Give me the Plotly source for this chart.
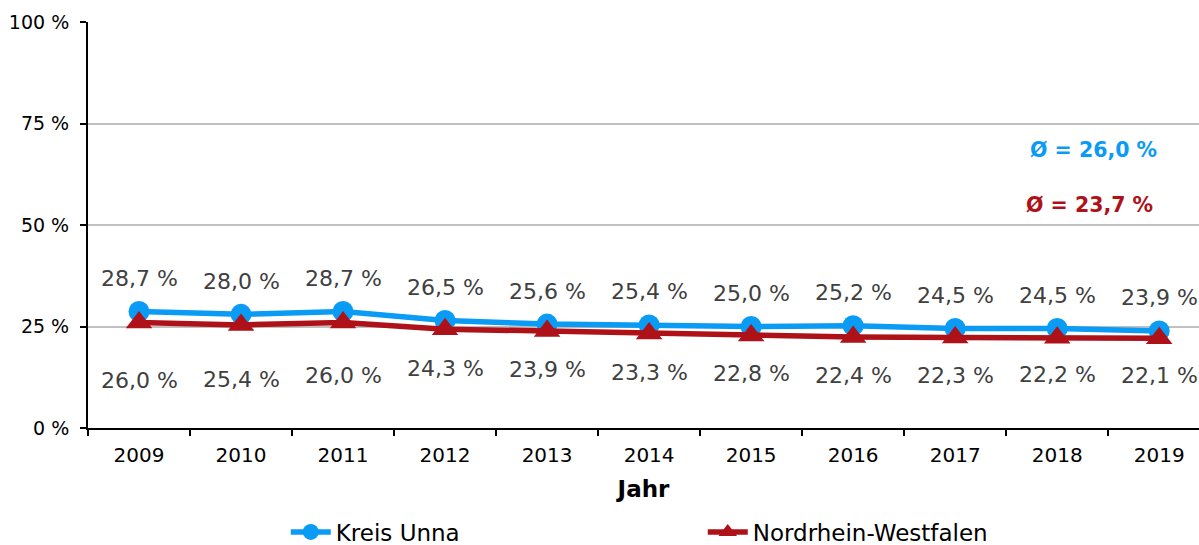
import plotly.graph_objects as go

years = ["2009", "2010", "2011", "2012", "2013", "2014", "2015", "2016", "2017", "2018", "2019"]
kreis_unna = [28.7, 28.0, 28.7, 26.5, 25.6, 25.4, 25.0, 25.2, 24.5, 24.5, 23.9]
nrw = [26.0, 25.4, 26.0, 24.3, 23.9, 23.3, 22.8, 22.4, 22.3, 22.2, 22.1]
series_names = ["Kreis Unna", "Nordrhein-Westfalen"]
y_ticks = [0, 25, 50, 75, 100]

# styling
BLUE = "#0A9BF5"
RED = "#AE1117"
LABEL_COLOR = "#404040"
FONT = "DejaVu Sans"
blue_label_shift = [33] * 11
red_label_shift = [-58, -55, -53, -39, -39, -39, -38, -38, -38, -37, -37]


def fmt(v):
    return f"{v:.1f}".replace(".", ",") + " %"


fig = go.Figure()
fig.add_trace(go.Scatter(
    x=years, y=kreis_unna, name=series_names[0], mode="lines+markers",
    line=dict(color=BLUE, width=5.5),
    marker=dict(symbol="circle", size=21, color=BLUE),
))
fig.add_trace(go.Scatter(
    x=years, y=nrw, name=series_names[1], mode="lines+markers",
    line=dict(color=RED, width=5.5),
    marker=dict(symbol="triangle-up", size=23, color=RED),
))

annotations = []
for i, yr in enumerate(years):
    annotations.append(dict(x=i, y=kreis_unna[i], xref="x", yref="y", text=fmt(kreis_unna[i]),
                            showarrow=False, yshift=blue_label_shift[i],
                            font=dict(family=FONT, size=22, color=LABEL_COLOR)))
    annotations.append(dict(x=i, y=nrw[i], xref="x", yref="y", text=fmt(nrw[i]),
                            showarrow=False, yshift=red_label_shift[i],
                            font=dict(family=FONT, size=22, color=LABEL_COLOR)))

avg_blue = sum(kreis_unna) / len(kreis_unna)
avg_red = sum(nrw) / len(nrw)
annotations.append(dict(x=9.36, y=68.5, xref="x", yref="y", showarrow=False,
                        text="<b>Ø = " + fmt(avg_blue) + "</b>",
                        font=dict(family=FONT, size=20.5, color=BLUE)))
annotations.append(dict(x=9.32, y=54.9, xref="x", yref="y", showarrow=False,
                        text="<b>Ø = " + fmt(avg_red) + "</b>",
                        font=dict(family=FONT, size=20.5, color=RED)))

fig.update_layout(
    width=1199, height=560,
    margin=dict(l=88, r=0, t=22, b=132),
    plot_bgcolor="white", paper_bgcolor="white",
    font=dict(family=FONT, size=19, color="black"),
    showlegend=True,
    legend=dict(orientation="h", x=0.178, xanchor="left", y=-0.256, yanchor="middle",
                font=dict(family=FONT, size=23, color="black"),
                entrywidth=362, entrywidthmode="pixels", itemwidth=40),
    annotations=annotations,
)
fig.update_xaxes(
    type="category", range=[-0.5, 10.39], tickson="boundaries",
    ticks="outside", ticklen=6, tickwidth=2, tickcolor="black",
    showline=True, linecolor="black", linewidth=2, showgrid=False, automargin=False,
    ticklabelstandoff=8,
    tickfont=dict(family=FONT, size=20, color="black"),
    title=dict(text="<b>Jahr</b>", font=dict(family=FONT, size=23, color="black"), standoff=15),
)
fig.update_yaxes(
    range=[0, 100], tickvals=y_ticks, ticktext=[f"{t} %" for t in y_ticks],
    ticks="outside", ticklen=6, tickwidth=2, tickcolor="black",
    showline=True, linecolor="black", linewidth=2, automargin=False,
    ticklabelstandoff=7,
    showgrid=True, gridcolor="#C0C0C0", gridwidth=1.5, zeroline=False,
    tickfont=dict(family=FONT, size=19, color="black"),
)

fig.write_html(
    "out.html",
    config={"displayModeBar": False},
    post_script="document.body.style.margin='0';"
                "document.body.style.overflow='hidden';"
                "document.documentElement.style.overflow='hidden';",
)
